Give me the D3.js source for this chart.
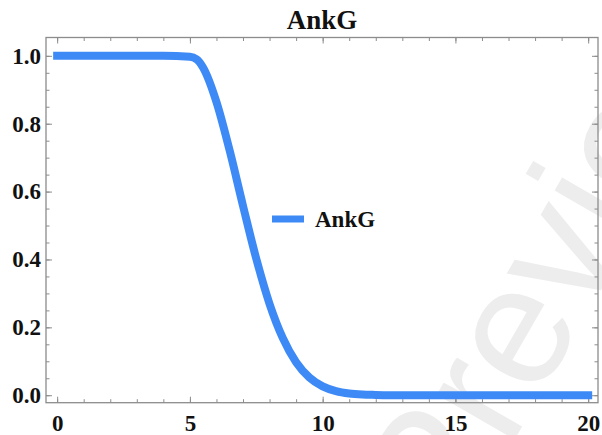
<!DOCTYPE html>
<html lang="en">
<head>
<meta charset="UTF-8">
<title>AnkG</title>
<script src="https://d3js.org/d3.v7.min.js"></script>
<style>
  body { margin: 0; background: #fff; }
  svg text { font-family: "Liberation Serif", "Times New Roman", serif; font-weight: bold; }
</style>
</head>
<body>
<script>
// values
var times = [0, 1, 2, 3, 4, 5, 5.25, 5.5, 6, 6.5, 7, 7.5, 8, 8.5, 9, 9.5, 10, 10.5, 11, 11.5, 12, 13, 14, 15, 16, 17, 18, 19, 20];
var ankg = [1, 1, 1, 1, 1, 0.997, 0.99, 0.965, 0.864, 0.72, 0.558, 0.402, 0.269, 0.168, 0.097, 0.052, 0.026, 0.012, 0.005, 0.002, 0.001, 0, 0, 0, 0, 0, 0, 0, 0];
var xTicks = [0, 5, 10, 15, 20];
var yTicks = [0, 0.2, 0.4, 0.6, 0.8, 1.0];
var title = "AnkG";
var seriesName = "AnkG";

var width = 602, height = 435;
var frame = {l: 46, r: 598, t: 37.5, b: 402.7};
var blue = "#3d8af7", frameCol = "#8c8c8c";

var svg = d3.select("body").append("svg")
    .attr("width", width)
    .attr("height", height);

// watermark
svg.append("text")
    .attr("transform", "translate(452,548) rotate(-60)")
    .style("font-family", "'Liberation Sans', Arial, sans-serif")
    .style("font-weight", "normal")
    .style("font-size", "170px")
    .attr("fill", "#ededed")
    .text("Preview");

var x = d3.scaleLinear().domain([-0.42, 20.37]).range([frame.l, frame.r]);
var y = d3.scaleLinear().domain([-0.022, 1.054]).range([frame.b, frame.t]);

var xMinor = d3.range(0, 21, 1);
var yMinor = d3.range(0, 1.001, 0.05);

// bottom axis
svg.append("g").attr("transform", "translate(0," + frame.b + ")")
  .call(d3.axisBottom(x).tickValues(xTicks).tickSize(-6).tickPadding(12).tickFormat(d3.format("d")));
svg.append("g").attr("transform", "translate(0," + frame.b + ")")
  .call(d3.axisBottom(x).tickValues(xMinor).tickSize(-3.5).tickFormat(""));
// top axis
svg.append("g").attr("transform", "translate(0," + frame.t + ")")
  .call(d3.axisTop(x).tickValues(xTicks).tickSize(-6).tickFormat(""));
svg.append("g").attr("transform", "translate(0," + frame.t + ")")
  .call(d3.axisTop(x).tickValues(xMinor).tickSize(-3.5).tickFormat(""));
// left axis
svg.append("g").attr("transform", "translate(" + frame.l + ",0)")
  .call(d3.axisLeft(y).tickValues(yTicks).tickSize(-6).tickPadding(5).tickFormat(d3.format(".1f")));
svg.append("g").attr("transform", "translate(" + frame.l + ",0)")
  .call(d3.axisLeft(y).tickValues(yMinor).tickSize(-3.5).tickFormat(""));
// right axis
svg.append("g").attr("transform", "translate(" + frame.r + ",0)")
  .call(d3.axisRight(y).tickValues(yTicks).tickSize(-6).tickFormat(""));
svg.append("g").attr("transform", "translate(" + frame.r + ",0)")
  .call(d3.axisRight(y).tickValues(yMinor).tickSize(-3.5).tickFormat(""));

svg.selectAll(".domain").remove();
svg.selectAll(".tick line").attr("stroke", frameCol);
svg.selectAll(".tick text").attr("fill", "#111").style("font-size", "23px");

svg.append("rect")
  .attr("x", frame.l).attr("y", frame.t)
  .attr("width", frame.r - frame.l).attr("height", frame.b - frame.t)
  .attr("fill", "none").attr("stroke", frameCol).attr("stroke-width", 1.3);

// curve
var line = d3.line()
  .x((d, i) => x(times[i]))
  .y(d => y(d))
  .curve(d3.curveMonotoneX);

svg.append("path")
  .attr("d", line(ankg))
  .attr("fill", "none")
  .attr("stroke", blue)
  .attr("stroke-width", 8)
  .attr("stroke-linecap", "square")
  .attr("stroke-linejoin", "round");

// legend
svg.append("line")
  .attr("x1", 272).attr("x2", 304).attr("y1", 219).attr("y2", 219)
  .attr("stroke", blue).attr("stroke-width", 7);
svg.append("text")
  .attr("x", 315).attr("y", 227)
  .style("font-size", "23px")
  .attr("fill", "#111")
  .text(seriesName);

// title
svg.append("text")
  .attr("x", (frame.l + frame.r) / 2).attr("y", 29)
  .attr("text-anchor", "middle")
  .style("font-size", "27px")
  .attr("fill", "#111")
  .text(title);
</script>
</body>
</html>
